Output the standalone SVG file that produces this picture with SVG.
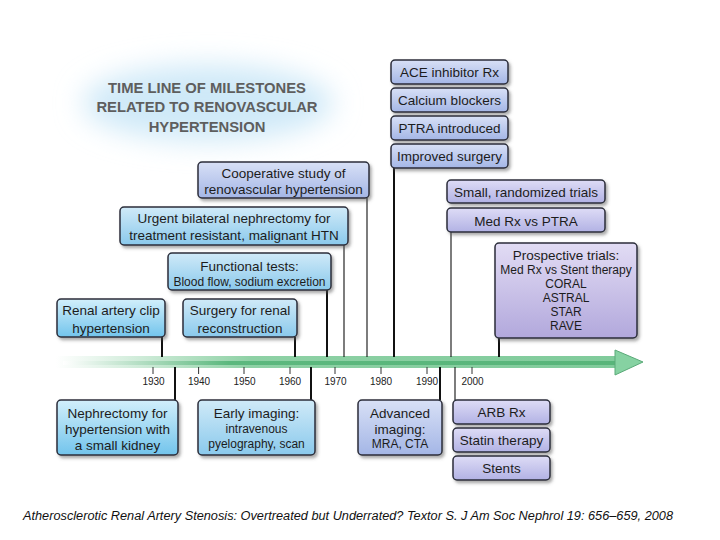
<svg xmlns="http://www.w3.org/2000/svg" width="720" height="540" viewBox="0 0 720 540">
<defs>
<linearGradient id="gCyan" x1="0" y1="0" x2="0" y2="1"><stop offset="0" stop-color="#d2effb"/><stop offset="1" stop-color="#72c4ec"/></linearGradient>
<linearGradient id="gSky" x1="0" y1="0" x2="0" y2="1"><stop offset="0" stop-color="#d0eaf8"/><stop offset="1" stop-color="#8ac9ec"/></linearGradient>
<linearGradient id="gPeri" x1="0" y1="0" x2="0" y2="1"><stop offset="0" stop-color="#d8e0f6"/><stop offset="1" stop-color="#a4b6e6"/></linearGradient>
<linearGradient id="gLav" x1="0" y1="0" x2="0" y2="1"><stop offset="0" stop-color="#dedcf6"/><stop offset="1" stop-color="#b2b2e4"/></linearGradient>
<linearGradient id="gPurp" x1="0" y1="0" x2="0" y2="1"><stop offset="0" stop-color="#e2dcf4"/><stop offset="1" stop-color="#b2a8dc"/></linearGradient>
<linearGradient id="gBar" x1="56" y1="0" x2="615" y2="0" gradientUnits="userSpaceOnUse"><stop offset="0" stop-color="#ffffff"/><stop offset="0.35" stop-color="#8ed1a5"/><stop offset="1" stop-color="#80cb9b"/></linearGradient>
<linearGradient id="gStripe" x1="63" y1="0" x2="615" y2="0" gradientUnits="userSpaceOnUse"><stop offset="0" stop-color="#ffffff"/><stop offset="0.3" stop-color="#5cb87e"/><stop offset="1" stop-color="#58b57a"/></linearGradient>
<filter id="sh" x="-10%" y="-10%" width="130%" height="140%"><feDropShadow dx="2" dy="2.5" stdDeviation="1.5" flood-color="#555" flood-opacity="0.5"/></filter>
<filter id="glow" x="-30%" y="-50%" width="160%" height="200%"><feGaussianBlur stdDeviation="14"/></filter>
</defs>
<style>
.box{stroke:#2b2d3a;stroke-width:1.5;filter:url(#sh)}
.t{font-family:"Liberation Sans",Arial,sans-serif;font-size:13.5px;fill:#1c1c1c;text-anchor:middle}
.s{font-size:12px}
.title{font-family:"Liberation Sans",Arial,sans-serif;font-size:14.8px;font-weight:bold;fill:#5e5e5e;text-anchor:middle}
.yr{font-family:"Liberation Sans",Arial,sans-serif;font-size:10px;fill:#222;text-anchor:middle}
.thick{stroke:#111;stroke-width:2}
.thin{stroke:#111;stroke-width:1.1}
.tick{stroke:#333;stroke-width:1}
</style>
<rect width="720" height="540" fill="#ffffff"/>
<g id="title">
<ellipse cx="208" cy="103" rx="125" ry="38" fill="#cfe9f8" filter="url(#glow)"/>
<text class="title" x="207" y="93">TIME LINE OF MILESTONES</text>
<text class="title" x="207" y="112">RELATED TO RENOVASCULAR</text>
<text class="title" x="207" y="132">HYPERTENSION</text>
</g>
<g id="timeline">
<rect x="56" y="356" width="560" height="12" fill="url(#gBar)"/>
<rect x="63" y="361" width="553" height="4" fill="url(#gStripe)"/>
<polygon points="615,350 643,362 615,375" fill="#86d2a2" stroke="#5aaa78" stroke-width="1"/>
<line class="tick" x1="153" y1="367" x2="153" y2="374"/>
<line class="tick" x1="198.6" y1="367" x2="198.6" y2="374"/>
<line class="tick" x1="244" y1="367" x2="244" y2="374"/>
<line class="tick" x1="290" y1="367" x2="290" y2="374"/>
<line class="tick" x1="335" y1="367" x2="335" y2="374"/>
<line class="tick" x1="381" y1="367" x2="381" y2="374"/>
<line class="tick" x1="427" y1="367" x2="427" y2="374"/>
<line class="tick" x1="472" y1="367" x2="472" y2="374"/>
<text class="yr" x="153.5" y="385">1930</text>
<text class="yr" x="199" y="385">1940</text>
<text class="yr" x="244.5" y="385">1950</text>
<text class="yr" x="290" y="385">1960</text>
<text class="yr" x="335.5" y="385">1970</text>
<text class="yr" x="381" y="385">1980</text>
<text class="yr" x="427" y="385">1990</text>
<text class="yr" x="472.5" y="385">2000</text>
</g>
<g id="connectors">
<line class="thick" x1="394" y1="168" x2="394" y2="357"/>
<line class="thin" x1="367" y1="198" x2="367" y2="357"/>
<line class="thin" x1="344" y1="245" x2="344" y2="357"/>
<line class="thick" x1="327" y1="290" x2="327" y2="357"/>
<line class="thick" x1="162" y1="337" x2="162" y2="357"/>
<line class="thick" x1="295" y1="337" x2="295" y2="357"/>
<line class="thin" x1="451" y1="232" x2="451" y2="357"/>
<line class="thick" x1="499" y1="338" x2="499" y2="357"/>
<line class="thick" x1="175" y1="367" x2="175" y2="400"/>
<line class="thick" x1="311" y1="367" x2="311" y2="400"/>
<line class="thick" x1="440" y1="367" x2="440" y2="400"/>
<line class="thin" x1="455" y1="367" x2="455" y2="400"/>
</g>
<g id="ace"><rect class="box" x="391" y="60" width="117" height="24" rx="4" fill="url(#gPeri)"/><text class="t" x="449.5" y="77">ACE inhibitor Rx</text></g>
<g id="calcium"><rect class="box" x="391" y="88" width="117" height="24" rx="4" fill="url(#gPeri)"/><text class="t" x="449.5" y="105">Calcium blockers</text></g>
<g id="ptra"><rect class="box" x="391" y="116" width="117" height="24" rx="4" fill="url(#gPeri)"/><text class="t" x="449.5" y="133">PTRA introduced</text></g>
<g id="improved"><rect class="box" x="391" y="144" width="117" height="24" rx="4" fill="url(#gPeri)"/><text class="t" x="449.5" y="161">Improved surgery</text></g>
<g id="cooperative"><rect class="box" x="198" y="162" width="171" height="36" rx="4" fill="url(#gPeri)"/><text class="t" x="283.5" y="178">Cooperative study of</text><text class="t" x="283.5" y="194">renovascular hypertension</text></g>
<g id="urgent"><rect class="box" x="120" y="207" width="228" height="38" rx="4" fill="url(#gSky)"/><text class="t" x="234" y="223">Urgent bilateral nephrectomy for</text><text class="t" x="234" y="240">treatment resistant, malignant HTN</text></g>
<g id="functional"><rect class="box" x="168" y="253" width="163" height="37" rx="4" fill="url(#gSky)"/><text class="t" x="249.5" y="271">Functional tests:</text><text class="t s" x="249.5" y="286">Blood flow, sodium excretion</text></g>
<g id="clip"><rect class="box" x="57" y="299" width="108" height="38" rx="4" fill="url(#gCyan)"/><text class="t" x="111" y="315">Renal artery clip</text><text class="t" x="111" y="333">hypertension</text></g>
<g id="surgery"><rect class="box" x="183" y="299" width="114" height="38" rx="4" fill="url(#gSky)"/><text class="t" x="240" y="315">Surgery for renal</text><text class="t" x="240" y="333">reconstruction</text></g>
<g id="small"><rect class="box" x="447" y="180" width="158" height="23" rx="4" fill="url(#gLav)"/><text class="t" x="526" y="197">Small, randomized trials</text></g>
<g id="medrx"><rect class="box" x="447" y="208" width="158" height="24" rx="4" fill="url(#gLav)"/><text class="t" x="526" y="226">Med Rx vs PTRA</text></g>
<g id="prospective"><rect class="box" x="495" y="243" width="142" height="95" rx="4" fill="url(#gPurp)"/><text class="t" x="566" y="260">Prospective trials:</text><text class="t s" x="566" y="274">Med Rx vs Stent therapy</text><text class="t s" x="566" y="288">CORAL</text><text class="t s" x="566" y="302">ASTRAL</text><text class="t s" x="566" y="316">STAR</text><text class="t s" x="566" y="330">RAVE</text></g>
<g id="nephrectomy"><rect class="box" x="57" y="400" width="121" height="55" rx="4" fill="url(#gCyan)"/><text class="t" x="117.5" y="418">Nephrectomy for</text><text class="t" x="117.5" y="434">hypertension with</text><text class="t" x="117.5" y="450">a small kidney</text></g>
<g id="early"><rect class="box" x="198" y="400" width="117" height="55" rx="4" fill="url(#gSky)"/><text class="t" x="256.5" y="418">Early imaging:</text><text class="t s" x="256.5" y="433">intravenous</text><text class="t s" x="256.5" y="448">pyelography, scan</text></g>
<g id="advanced"><rect class="box" x="358" y="400" width="84" height="55" rx="4" fill="url(#gPeri)"/><text class="t" x="400" y="418">Advanced</text><text class="t" x="400" y="434">imaging:</text><text class="t s" x="400" y="448">MRA, CTA</text></g>
<g id="arb"><rect class="box" x="453" y="400" width="97" height="24" rx="4" fill="url(#gLav)"/><text class="t" x="501.5" y="417">ARB Rx</text></g>
<g id="statin"><rect class="box" x="453" y="428" width="97" height="24" rx="4" fill="url(#gLav)"/><text class="t" x="501.5" y="445">Statin therapy</text></g>
<g id="stents"><rect class="box" x="453" y="456" width="97" height="24" rx="4" fill="url(#gLav)"/><text class="t" x="501.5" y="473">Stents</text></g>
<text x="23" y="520" font-family="'Liberation Sans',Arial,sans-serif" font-style="italic" font-size="12.5" fill="#111" textLength="650" lengthAdjust="spacingAndGlyphs">Atherosclerotic Renal Artery Stenosis: Overtreated but Underrated?  Textor S.  J Am Soc Nephrol 19: 656–659, 2008</text>
</svg>
